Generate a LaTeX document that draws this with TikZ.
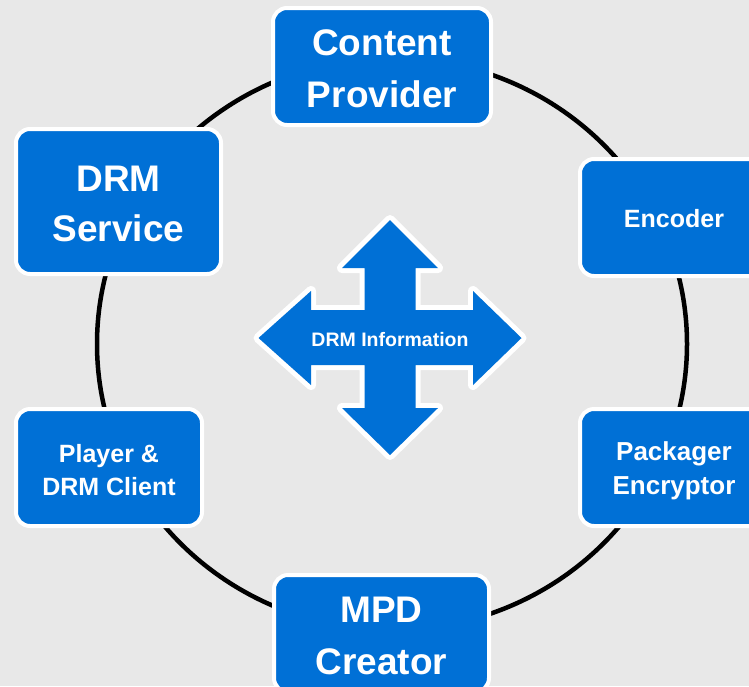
\documentclass[tikz,border=0pt]{standalone}
\usepackage{fontspec}
\setmainfont{Liberation Sans}
\definecolor{bg}{RGB}{232,232,232}
\definecolor{boxblue}{RGB}{0,112,214}
\tikzset{
  rolebox/.style={fill=boxblue, draw=white, line width=4pt, rounded corners=14pt, inner sep=0pt},
  boxtext/.style={text=white, align=center, inner sep=0pt},
  bigtext/.style={font=\bfseries\fontsize{37}{52}\selectfont},
  smalltext/.style={font=\bfseries\fontsize{25}{33.5}\selectfont},
}
\begin{document}
\begin{tikzpicture}[x=1pt,y=-1pt]
\useasboundingbox (0,0) rectangle (749,686);
\clip (0,0) rectangle (749,686);
\fill[bg] (0,0) rectangle (749,686);
% ring
\draw[line width=4.5pt, black] (392,344) ellipse [x radius=295pt, y radius=286pt];
% boxes
\node[rolebox, minimum width=218pt, minimum height=117pt] (cp) at (382,66.5) {};
\node[rolebox, minimum width=188pt, minimum height=117pt] (enc) at (674,217.5) {};
\node[rolebox, minimum width=188pt, minimum height=117pt] (pe) at (674,467.5) {};
\node[rolebox, minimum width=215pt, minimum height=117pt] (mpd) at (381.5,633.5) {};
\node[rolebox, minimum width=186pt, minimum height=117pt] (pl) at (109,467.5) {};
\node[rolebox, minimum width=205pt, minimum height=145pt] (ds) at (118.5,201.5) {};
% box texts
\node[boxtext, bigtext] (cpt) at ([yshift=-2.5pt]cp.center) {Content\\Provider};
\node[boxtext, smalltext] (enct) at ([yshift=-1pt]enc.center) {Encoder};
\node[boxtext, font=\bfseries\fontsize{26}{34}\selectfont] (pet) at ([yshift=-3pt]pe.center) {Packager\\Encryptor};
\node[boxtext, bigtext] (mpdt) at ([yshift=-2pt]mpd.center) {MPD\\Creator};
\node[boxtext, smalltext] (plt) at ([yshift=-2.5pt]pl.center) {Player \&\\DRM Client};
\node[boxtext, font=\bfseries\fontsize{37}{49.5}\selectfont] (dst) at ([yshift=-2.5pt]ds.center) {DRM\\Service};
% four-way arrow
\def\arrowpath{(390,220) -- (438,268) -- (415.5,268) -- (415.5,310) -- (473,310) -- (473,291) -- (521.5,338) -- (473,385) -- (473,365) -- (415.5,365) -- (415.5,408) -- (438,408) -- (390,455) -- (342,408) -- (364.5,408) -- (364.5,365) -- (311,365) -- (311,385) -- (258.5,338) -- (311,291) -- (311,310) -- (364.5,310) -- (364.5,268) -- (342,268) -- cycle}
\filldraw[white, line width=10pt, line join=round] \arrowpath;
\fill[boxblue] \arrowpath;
\node[text=white, font=\bfseries\fontsize{19.5}{22}\selectfont] (info) at (390,340) {DRM Information};
\end{tikzpicture}
\end{document}
